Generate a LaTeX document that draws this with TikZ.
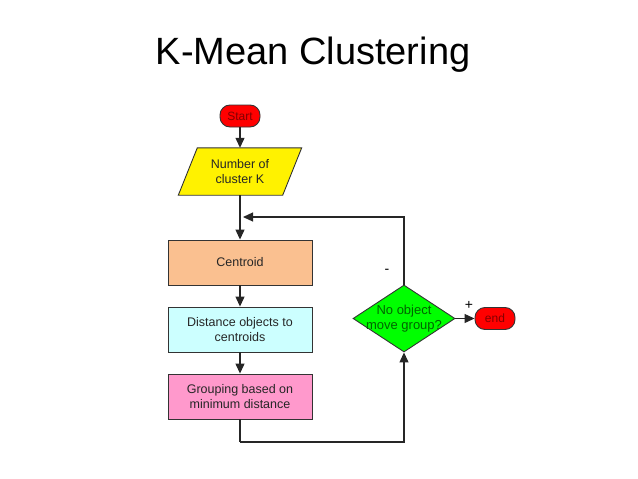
\documentclass[tikz,border=0pt]{standalone}
\usepackage{fontspec}
\setmainfont{Liberation Sans}
\usetikzlibrary{shapes.geometric,arrows.meta,backgrounds}
\definecolor{peach}{HTML}{FAC090}
\definecolor{lcyan}{HTML}{CCFFFF}
\definecolor{lpink}{HTML}{FF99CC}
\definecolor{lgreen}{HTML}{00FF00}
\definecolor{edge}{HTML}{333333}
\tikzset{
  box/.style={draw=edge, line width=0.9pt, minimum width=144pt, minimum height=45pt, inner sep=0pt, align=center, font=\fontsize{12.5}{14.5}\selectfont, text=black!85},
  term/.style={draw=edge, line width=0.9pt, fill=red, rounded corners=10pt, minimum width=40pt, minimum height=22pt, inner sep=0pt, font=\fontsize{12}{14}\selectfont, text={rgb,255:red,130;green,0;blue,0}},
  arr/.style={draw=black!85, line width=1.2pt, -{Triangle[length=10pt,width=9pt]}},
  ln/.style={draw=black!85, line width=1.2pt},
}
\begin{document}
\begin{tikzpicture}[x=1pt,y=-1pt]
\useasboundingbox (0,0) rectangle (638,479);
\node[font=\fontsize{38}{44}\selectfont] (title) at (313,55) {K-Mean Clustering};
\node[term] (start) at (240,116) {Start};
\node[minimum width=104pt, minimum height=47pt, inner sep=0pt, align=center, font=\fontsize{12.5}{14.5}\selectfont, text=black!85] (num) at (240,171.5) {Number of\\cluster K};
\begin{scope}[on background layer]
\draw[draw=edge, line width=0.9pt, fill=yellow] ([xshift=9.5pt]num.north west) -- ([xshift=9.5pt]num.north east) -- ([xshift=-9.5pt]num.south east) -- ([xshift=-9.5pt]num.south west) -- cycle;
\end{scope}
\node[box, fill=peach] (cen) at (240,262.5) {Centroid};
\node[box, fill=lcyan] (dist) at (240,329.5) {Distance objects to\\centroids};
\node[box, fill=lpink] (grp) at (240,396.5) {Grouping based on\\minimum distance};
\node[diamond, draw=edge, line width=0.9pt, fill=lgreen, minimum width=102pt, minimum height=67pt, inner sep=0pt, shape aspect=1.52,
  label={[align=center, font=\fontsize{13}{15}\selectfont, text={rgb,255:red,0;green,100;blue,0}]center:No object\\move group?}] (dec) at (404,318.5) {};
\node[term] (end) at (495,318.5) {end};
\coordinate (join) at (243,217);
\coordinate (bot) at (240,442);
\draw[arr] (start) -- (num);
\draw[arr] (num) -- (cen);
\draw[arr] (cen) -- (dist);
\draw[arr] (dist) -- (grp);
\draw[ln] (grp.south) -- (bot);
\draw[arr] (bot) -| (dec.south);
\draw[arr] (dec.north) |- (join);
\draw[arr] (dec.east) -- (end.west);
\node[font=\fontsize{14}{16}\selectfont] (minus) at (387,271) {-};
\node[font=\fontsize{14}{16}\selectfont] (plus) at (469,305) {+};
\end{tikzpicture}
\end{document}
